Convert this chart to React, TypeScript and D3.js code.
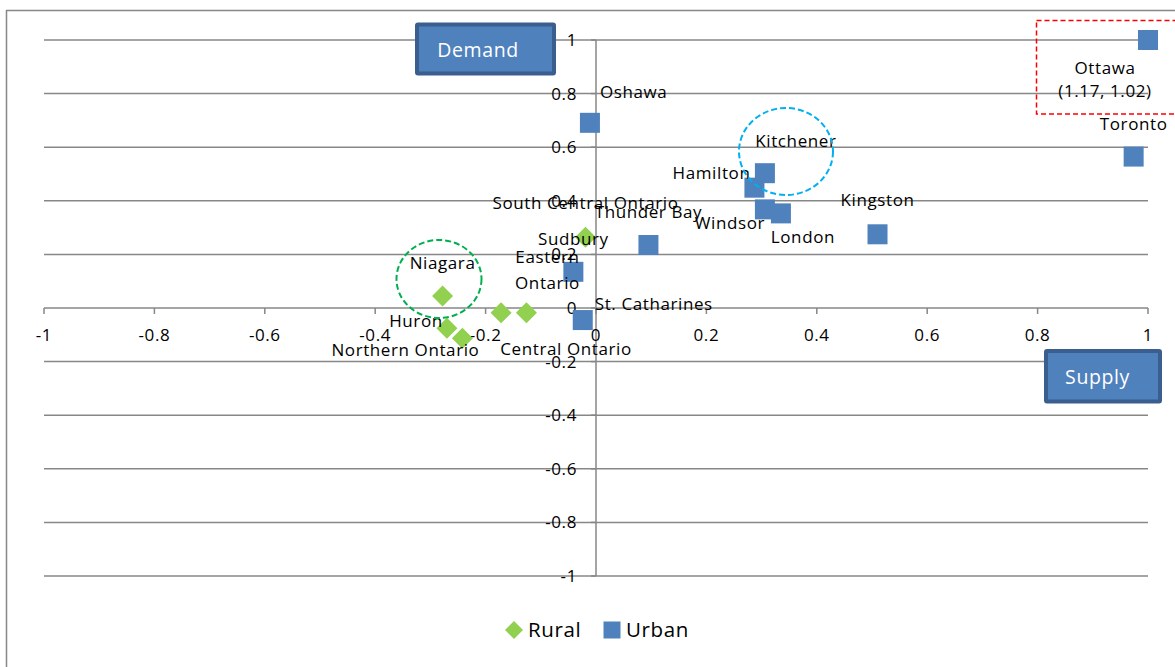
import React from "react";
import * as d3 from "d3";

const ruralNames = ["South Central Ontario", "Niagara", "Central Ontario", "Eastern Ontario", "Huron", "Northern Ontario"];
const ruralX = [-0.019, -0.278, -0.172, -0.126, -0.27, -0.242];
const ruralY = [0.264, 0.045, -0.018, -0.018, -0.076, -0.113];

const urbanNames = ["Ottawa", "Toronto", "Kingston", "London", "Windsor", "Kitchener", "Hamilton", "Thunder Bay", "Oshawa", "Sudbury", "St. Catharines"];
const urbanX = [1.17, 0.974, 0.51, 0.335, 0.306, 0.306, 0.287, 0.095, -0.011, -0.041, -0.024];
const urbanY = [1.02, 0.565, 0.275, 0.353, 0.368, 0.503, 0.449, 0.235, 0.691, 0.135, -0.045];

const tickValues = [-1, -0.8, -0.6, -0.4, -0.2, 0, 0.2, 0.4, 0.6, 0.8, 1];

// label placement (pixel offsets from marker centre)
const labelPlacement: Record<string, { dx: number; dy: number[]; anchor: string }> = {
  "South Central Ontario": { dx: 0, dy: [-34], anchor: "middle" },
  Niagara: { dx: 0, dy: [-33], anchor: "middle" },
  "Central Ontario": { dx: 65, dy: [36], anchor: "middle" },
  "Eastern Ontario": { dx: 21, dy: [-56, -30], anchor: "middle" },
  Huron: { dx: -31, dy: [-7], anchor: "middle" },
  "Northern Ontario": { dx: -57, dy: [12], anchor: "middle" },
  Ottawa: { dx: -43, dy: [28, 51], anchor: "middle" },
  Toronto: { dx: 0, dy: [-33], anchor: "middle" },
  Kingston: { dx: 0, dy: [-34], anchor: "middle" },
  London: { dx: 22, dy: [24], anchor: "middle" },
  Windsor: { dx: -35, dy: [14], anchor: "middle" },
  Kitchener: { dx: 31, dy: [-32], anchor: "middle" },
  Hamilton: { dx: -4, dy: [-15], anchor: "end" },
  "Thunder Bay": { dx: 0, dy: [-33], anchor: "middle" },
  Oshawa: { dx: 10, dy: [-31], anchor: "start" },
  Sudbury: { dx: 0, dy: [-33], anchor: "middle" },
  "St. Catharines": { dx: 71, dy: [-16], anchor: "middle" },
};

function labelLines(name: string, vx: number, vy: number): string[] {
  if (name === "Ottawa") return [name, `(${vx}, ${vy})`];
  if (name === "Eastern Ontario") return ["Eastern", "Ontario"];
  return [name];
}

const FONT = "'Open Sans', 'Noto Sans', sans-serif";
const LS = 0.6;

export default function App() {
  const W = 1175, H = 667;
  const x = d3.scaleLinear().domain([-1, 1]).range([44, 1148]).clamp(true);
  const y = d3.scaleLinear().domain([-1, 1]).range([576, 40]).clamp(true);
  const fmt = (v: number) => String(+v.toFixed(1));
  const grid = "#878787";

  const rural = ruralNames.map((n, i) => ({ n, vx: ruralX[i], vy: ruralY[i] }));
  const urban = urbanNames.map((n, i) => ({ n, vx: urbanX[i], vy: urbanY[i] }));
  const all = [...rural, ...urban];

  return (
    <svg width={W} height={H} style={{ position: "absolute", left: 0, top: 0, background: "#fff" }} fontFamily={FONT}>
      <rect x={0} y={0} width={W} height={H} fill="#fff" />
      {/* outer border */}
      <line x1={6} y1={10.5} x2={W} y2={10.5} stroke={grid} strokeWidth={1.5} />
      <line x1={6.5} y1={10} x2={6.5} y2={H} stroke={grid} strokeWidth={1.5} />

      {/* horizontal gridlines */}
      {tickValues.filter((v) => v !== 0).map((v) => (
        <line key={"g" + v} x1={x(-1)} x2={x(1)} y1={y(v)} y2={y(v)} stroke={grid} strokeWidth={1.5} />
      ))}
      {/* vertical axis */}
      <line x1={x(0)} x2={x(0)} y1={y(1)} y2={y(-1)} stroke={grid} strokeWidth={1.5} />
      {/* horizontal axis */}
      <line x1={x(-1)} x2={x(1)} y1={y(0)} y2={y(0)} stroke={grid} strokeWidth={1.5} />
      {tickValues.map((v) => (
        <line key={"t" + v} x1={x(v)} x2={x(v)} y1={y(0)} y2={y(0) + 6} stroke={grid} strokeWidth={1.5} />
      ))}
      {tickValues.map((v) => (
        <line key={"ty" + v} x1={x(0) - 5} x2={x(0)} y1={y(v)} y2={y(v)} stroke={grid} strokeWidth={1.5} />
      ))}

      {/* tick labels */}
      {tickValues.map((v) => (
        <text key={"xl" + v} x={x(v)} y={y(0) + 27} textAnchor="middle" dy="0.35em" fontSize={17} letterSpacing={LS} fill="#000">
          {fmt(v)}
        </text>
      ))}
      {tickValues.map((v) => (
        <text key={"yl" + v} x={x(0) - 19} y={y(v)} textAnchor="end" dy="0.35em" fontSize={17} letterSpacing={LS} fill="#000">
          {fmt(v)}
        </text>
      ))}

      {/* markers */}
      {rural.map((d) => {
        const cx = x(d.vx), cy = y(d.vy), r = 10.5;
        return (
          <path key={"r" + d.n} d={`M${cx},${cy - r}L${cx + r},${cy}L${cx},${cy + r}L${cx - r},${cy}Z`} fill="#92D050" />
        );
      })}
      {urban.map((d) => (
        <rect key={"u" + d.n} x={x(d.vx) - 10} y={y(d.vy) - 10} width={20} height={20} fill="#4F81BD" />
      ))}

      {/* data labels */}
      {all.map((d) => {
        const p = labelPlacement[d.n];
        const lines = labelLines(d.n, d.vx, d.vy);
        return lines.map((t, i) => (
          <text key={"l" + d.n + i} x={x(d.vx) + p.dx} y={y(d.vy) + p.dy[i]} dy="0.35em" textAnchor={p.anchor} fontSize={17} letterSpacing={LS} fill="#000">
            {t}
          </text>
        ));
      })}

      {/* annotations */}
      <ellipse cx={439} cy={279} rx={42.5} ry={39} fill="none" stroke="#00B050" strokeWidth={2} strokeDasharray="6,3" />
      <ellipse cx={786} cy={151.5} rx={47} ry={43.5} fill="none" stroke="#00B0F0" strokeWidth={2} strokeDasharray="6,3" />
      <rect x={1036.5} y={20.5} width={150} height={93.5} fill="none" stroke="#FF0000" strokeWidth={1.5} strokeDasharray="5,3" />

      <rect x={417} y={24.5} width={137} height={49} fill="#4F81BD" stroke="#3A5F8E" strokeWidth={4} rx={1} />
      <text x={478} y={50.5} dy="0.35em" textAnchor="middle" fill="#fff" fontSize={19.5} letterSpacing={0.6}>Demand</text>
      <rect x={1046} y={351} width={114} height={50.5} fill="#4F81BD" stroke="#3A5F8E" strokeWidth={4} rx={1} />
      <text x={1097.5} y={377} dy="0.35em" textAnchor="middle" fill="#fff" fontSize={19.5} letterSpacing={0.6}>Supply</text>

      {/* legend */}
      <path d="M514,621L523,630L514,639L505,630Z" fill="#92D050" />
      <text x={528} y={630} dy="0.35em" fontSize={20.5} letterSpacing={0.6} fill="#000">Rural</text>
      <rect x={603.5} y={621.5} width={17} height={17} fill="#4F81BD" />
      <text x={626} y={630} dy="0.35em" fontSize={20.5} letterSpacing={0.6} fill="#000">Urban</text>
    </svg>
  );
}
